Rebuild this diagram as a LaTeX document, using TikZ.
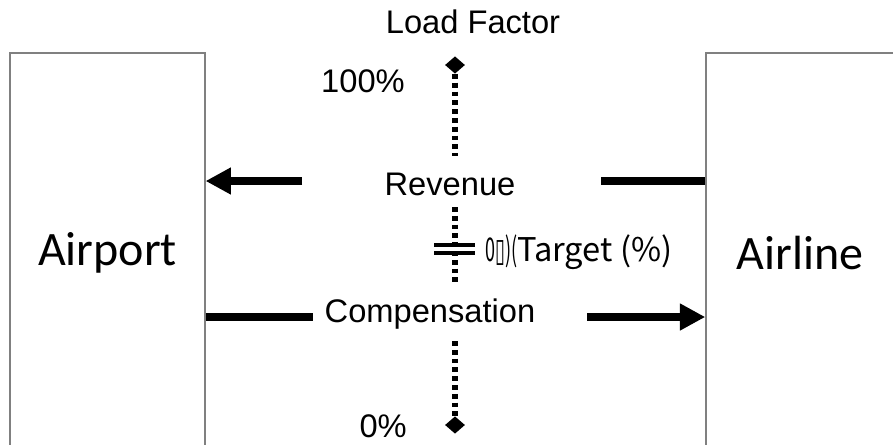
\documentclass[tikz,border=0pt]{standalone}
\usepackage{fontspec}
\setmainfont{Liberation Sans}
\newfontfamily\boxfont{Carlito}
\newfontfamily\gothfont{Noto Sans CJK JP}
\newfontfamily\symfont{DejaVu Sans}
\usetikzlibrary{shapes,arrows.meta,positioning}

\begin{document}
\begin{tikzpicture}[x=0.75pt,y=-0.75pt,>={Triangle[length=19pt,width=19pt]},font=\fontsize{24.5}{28}\selectfont]
  \tikzstyle{party}=[draw=black!50,line width=1.1pt,minimum width=146pt,minimum height=300pt,font=\boxfont\fontsize{36}{40}\selectfont]
  \tikzstyle{flow}=[line width=5.5pt]
  \tikzstyle{lfline}=[line width=5pt,dash pattern=on 3.6pt off 3pt]
  \tikzstyle{endmark}=[diamond,fill=black,inner sep=0pt,minimum width=15pt,minimum height=13pt]
  \tikzstyle{lbl}=[inner sep=0pt,anchor=base]

  \useasboundingbox (0,0) rectangle (893,444);

  % the two parties
  \node[party] at (107.5,253) (airport) {Airport};
  \node[party,minimum width=141pt] at (800,253) (airline) {Airline};

  % labels
  \node[lbl] at (473,33) (lf) {Load Factor};
  \node[lbl,anchor=base east] at (405,92) (full-l) {100\%};
  \node[lbl,anchor=base east] at (407,437) (empty-l) {0\%};
  \node[lbl] at (450,195) (rev) {Revenue};
  \node[lbl] at (430,322) (comp) {Compensation};
  \node[lbl,anchor=base west] at (485,261) (target) {\scalebox{0.55}[1]{\gothfont 0\symfont ▯\gothfont)(}\gothfont Target (\%)};

  % revenue and compensation flows
  \coordinate (rev-l) at (302,181);
  \coordinate (rev-r) at (601,181);
  \coordinate (comp-l) at (313,317);
  \coordinate (comp-r) at (587,317);
  \path (airline.west |- rev-r) edge[flow] (rev-r);
  \path (rev-l) edge[flow,->] (airport.east |- rev-l);
  \path (airport.east |- comp-l) edge[flow] (comp-l);
  \path (comp-r) edge[flow,->] (airline.west |- comp-r);

  % target mark
  \coordinate (eq-l) at (434,249);
  \coordinate (eq-r) at (475,249);
  \path (eq-l) edge[line width=2.6pt,double distance=3.4pt] (eq-r);

  % load factor axis
  \node[endmark] at (455,65) (full) {};
  \node[endmark] at (455,425) (empty) {};
  \coordinate (ax1) at (455,156);
  \coordinate (ax2) at (455,207);
  \coordinate (ax3) at (455,282);
  \coordinate (ax4) at (455,341);
  \draw[lfline] (full) -- (ax1);
  \draw[lfline] (ax2) -- (ax3);
  \draw[lfline] (ax4) -- (empty);
\end{tikzpicture}
\end{document}
